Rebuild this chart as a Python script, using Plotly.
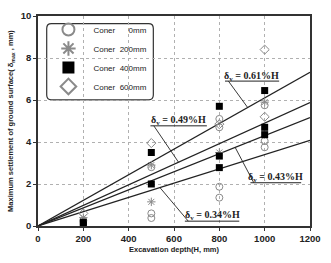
import plotly.graph_objects as go

# ---- data ----
circ_x = [200, 500, 500, 500, 800, 800, 800, 800, 1000, 1000, 1000]
circ_y = [0.25, 0.38, 0.6, 2.8, 1.35, 1.87, 4.7, 5.1, 3.75, 4.05, 5.75]
star_x = [200, 500, 500, 800, 1000]
star_y = [0.4, 1.15, 2.9, 3.5, 5.9]
sq_x = [200, 200, 500, 500, 800, 800, 800, 1000, 1000, 1000]
sq_y = [0.05, 0.18, 2.0, 3.5, 2.78, 3.33, 5.7, 4.35, 4.7, 6.45]
dia_x = [200, 500, 800, 1000, 1000]
dia_y = [0.6, 3.95, 4.85, 5.2, 8.4]

ratios = [0.61, 0.49, 0.43, 0.34]          # % of H
line_x = [0, 1200]
series_names = ["Coner\u00a0\u00a0\u00a0\u00a0\u00a0\u00a00mm",
                "Coner\u00a0\u00a0200mm",
                "Coner\u00a0\u00a0400mm",
                "Coner\u00a0\u00a0600mm"]
x_ticks = [0, 200, 400, 600, 800, 1000, 1200]
y_ticks = [0, 2, 4, 6, 8, 10]

# label placements (text centre, underline ends, leader head)
labels = [
    dict(r=0.61, tx=944, ty=7.14, ux0=825, ux1=1064, uy=6.90, hx=925),
    dict(r=0.49, tx=620, ty=5.04, ux0=496, ux1=745, uy=4.77, hx=620),
    dict(r=0.43, tx=1049, ty=2.29, ux0=937, ux1=1161, uy=2.06, hx=870),
    dict(r=0.34, tx=772, ty=0.50, ux0=648, ux1=888, uy=0.23, hx=538),
]

GRAY = "#8a8a8a"
fig = go.Figure()

for r in ratios:
    fig.add_trace(go.Scatter(x=line_x, y=[v * r / 100 for v in line_x], mode="lines",
                             line=dict(color="#222", width=1.2), showlegend=False,
                             hoverinfo="skip"))

fig.add_trace(go.Scatter(x=circ_x, y=circ_y, mode="markers", name=series_names[0],
                         marker=dict(symbol="circle-open", size=7, color=GRAY,
                                     line=dict(width=1, color=GRAY))))
fig.add_trace(go.Scatter(x=star_x, y=star_y, mode="markers", name=series_names[1],
                         marker=dict(symbol="asterisk-open", size=7, color=GRAY,
                                     line=dict(width=1, color=GRAY))))
fig.add_trace(go.Scatter(x=sq_x, y=sq_y, mode="markers", name=series_names[2],
                         marker=dict(symbol="square", size=7, color="black",
                                     line=dict(width=0))))
fig.add_trace(go.Scatter(x=dia_x, y=dia_y, mode="markers", name=series_names[3],
                         marker=dict(symbol="diamond-open", size=7, color=GRAY,
                                     line=dict(width=1, color=GRAY))))

shapes = []
annotations = []
for lb in labels:
    annotations.append(dict(x=lb["tx"], y=lb["ty"], xref="x", yref="y", showarrow=False,
                            text="<b>δ<sub>v</sub> = %.2f%%H</b>" % lb["r"],
                            font=dict(family="Liberation Serif, Times New Roman", size=10,
                                      color="#222")))
    shapes.append(dict(type="line", xref="x", yref="y", x0=lb["ux0"], x1=lb["ux1"],
                       y0=lb["uy"], y1=lb["uy"], line=dict(color="#222", width=1)))
    shapes.append(dict(type="line", xref="x", yref="y", x0=lb["ux0"] + 15, y0=lb["uy"],
                       x1=lb["hx"], y1=lb["hx"] * lb["r"] / 100,
                       line=dict(color="#222", width=0.9)))

# rounded legend box (paper coords relative to plot area)
x0, x1, y0, y1 = 0.032, 0.424, 0.601, 0.964
rx, ry = 0.0175, 0.023
path = (f"M {x0+rx},{y1} L {x1-rx},{y1} Q {x1},{y1} {x1},{y1-ry} "
        f"L {x1},{y0+ry} Q {x1},{y0} {x1-rx},{y0} L {x0+rx},{y0} "
        f"Q {x0},{y0} {x0},{y0+ry} L {x0},{y1-ry} Q {x0},{y1} {x0+rx},{y1} Z")
shapes.append(dict(type="path", xref="paper", yref="paper", path=path,
                   line=dict(color="#333", width=1.2), fillcolor="white", layer="below"))

FONT = "Liberation Sans, Arial"
axis_common = dict(showline=True, linecolor="#333", linewidth=1.5, mirror=True,
                   ticks="outside", ticklen=3, tickcolor="#333",
                   showgrid=True, gridcolor="#b0b0b0", griddash="dot", gridwidth=1,
                   zeroline=False,
                   tickfont=dict(family=FONT, size=9.5, color="#222", weight="bold"))

fig.update_layout(
    width=331, height=263,
    margin=dict(l=34, r=12, t=10, b=35),
    paper_bgcolor="white", plot_bgcolor="white",
    shapes=shapes, annotations=annotations,
    xaxis=dict(range=[0, 1200], tickvals=x_ticks, **axis_common,
               title=dict(text="<b>Excavation depth(H, mm)</b>", standoff=4,
                          font=dict(family=FONT, size=7.5, color="#222"))),
    yaxis=dict(range=[0, 10], tickvals=y_ticks, **axis_common,
               title=dict(text="<b>Maximum settlement of ground surface( δ<sub>max</sub> , mm)</b>",
                          standoff=6, font=dict(family=FONT, size=7.5, color="#222"))),
    legend=dict(x=0.02, y=1.005, xanchor="left", yanchor="top", bgcolor="rgba(0,0,0,0)",
                borderwidth=0, itemsizing="constant", itemwidth=40,
                font=dict(family=FONT, size=8, color="#222")),
    showlegend=True,
)

fig.write_html("out.html")
